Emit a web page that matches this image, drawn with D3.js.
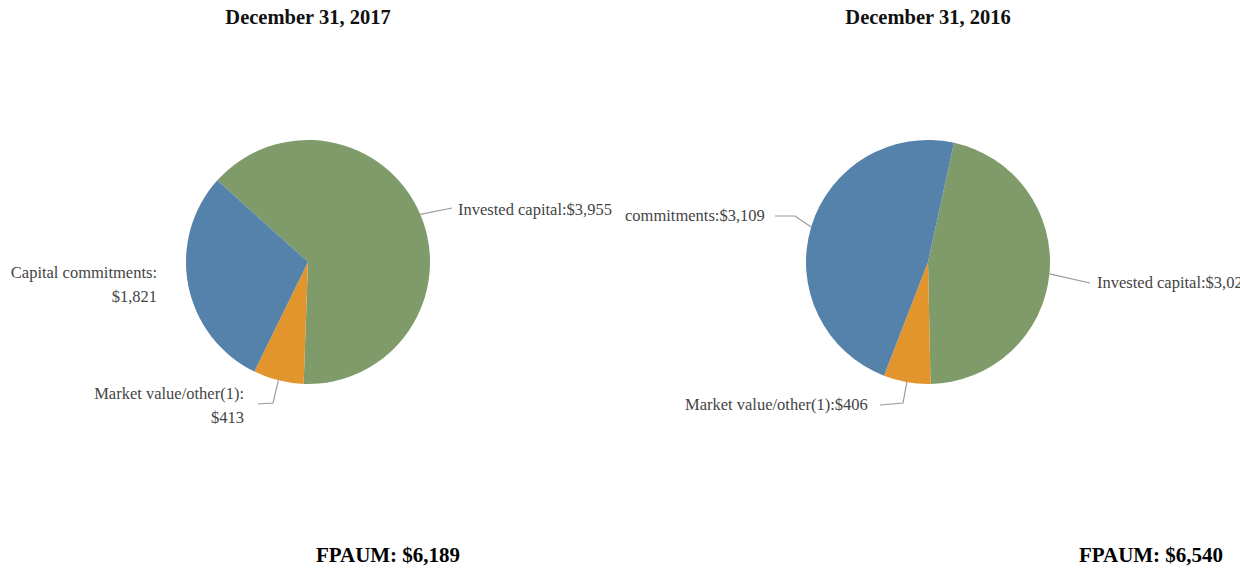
<!DOCTYPE html>
<html>
<head>
<meta charset="utf-8">
<script src="https://cdn.jsdelivr.net/npm/d3@7"></script>
<style>
  body { margin: 0; background: #fff; }
  svg { display: block; }
  text { font-family: "Liberation Serif", "Times New Roman", serif; }
</style>
</head>
<body>
<div id="chart"></div>
<script>
const width = 1240;
const height = 573;

// data (in $ millions)
const categories = ["Invested capital", "Market value/other(1)", "Capital commitments"];
const values2017 = [3955, 413, 1821];
const values2016 = [3025, 406, 3109];
const titles = ["December 31, 2017", "December 31, 2016"];
const totals = ["FPAUM: $6,189", "FPAUM: $6,540"];

const colors = d3.scaleOrdinal()
  .domain(categories)
  .range(["#7f9b69", "#e3952d", "#5582aa"]);

const fmt = d3.format("$,");

// layout for each pie (start angle in degrees, label anchors, leader elbows)
const pies = [
  {
    values: values2017, title: titles[0], total: totals[0],
    cx: 308, cy: 262, start: -48, totalX: 388,
    labels: [
      { lines: (v) => ["Invested capital:" + fmt(v)], x: 458, y: 215, anchor: "start",
        leader: [[452, 208]] },
      { lines: (v) => ["Market value/other(1):", fmt(v)], x: 244, y: 399, anchor: "end",
        leader: [[273, 403], [258, 404]] },
      { lines: (v) => ["Capital commitments:", fmt(v)], x: 157, y: 278, anchor: "end",
        leader: null }
    ]
  },
  {
    values: values2016, title: titles[1], total: totals[1],
    cx: 928, cy: 262, start: 12.3, totalX: 1151,
    labels: [
      // the reference crops this label at the right edge
      { lines: (v) => ["Invested capital:" + fmt(v)], x: 1097, y: 288, anchor: "start",
        leader: [[1090, 283]] },
      { lines: (v) => ["Market value/other(1):" + fmt(v)], x: 685, y: 410, anchor: "start",
        leader: [[903, 403], [880, 405]] },
      { lines: (v) => ["commitments:" + fmt(v)], x: 625, y: 221, anchor: "start",
        leader: [[795, 216], [775, 216]] }
    ]
  }
];

const radius = 122;

const svg = d3.select("#chart")
  .append("svg")
  .attr("width", width)
  .attr("height", height)
  .attr("viewBox", `0 0 ${width} ${height}`);

const arc = d3.arc().innerRadius(0).outerRadius(radius);

pies.forEach((p) => {
  const pie = d3.pie()
    .sort(null)
    .startAngle((p.start * Math.PI) / 180)
    .endAngle((p.start * Math.PI) / 180 + 2 * Math.PI);

  const arcs = pie(p.values);

  svg.append("text")
    .attr("x", p.cx)
    .attr("y", 24)
    .attr("text-anchor", "middle")
    .style("font-weight", "bold")
    .style("font-size", "20.5px")
    .attr("fill", "#111")
    .text(p.title);

  const g = svg.append("g").attr("transform", `translate(${p.cx},${p.cy})`);

  g.selectAll("path")
    .data(arcs)
    .join("path")
    .attr("d", arc)
    .attr("fill", (d, i) => colors(categories[i]));

  // leader lines + labels
  arcs.forEach((d, i) => {
    const lab = p.labels[i];
    const mid = (d.startAngle + d.endAngle) / 2;
    const sx = p.cx + Math.sin(mid) * radius;
    const sy = p.cy - Math.cos(mid) * radius;

    if (lab.leader) {
      svg.append("path")
        .attr("d", d3.line()([[sx, sy], ...lab.leader]))
        .attr("fill", "none")
        .attr("stroke", "#9a9a9a")
        .attr("stroke-width", 1.2);
    }

    const t = svg.append("text")
      .attr("x", lab.x)
      .attr("y", lab.y)
      .attr("text-anchor", lab.anchor)
      .style("font-size", "16.5px")
      .attr("fill", "#444");

    lab.lines(p.values[i]).forEach((s, k) => {
      t.append("tspan")
        .attr("x", lab.x)
        .attr("dy", k === 0 ? 0 : 24)
        .text(s);
    });
  });

  svg.append("text")
    .attr("x", p.totalX)
    .attr("y", 562)
    .attr("text-anchor", "middle")
    .style("font-weight", "bold")
    .style("font-size", "21px")
    .attr("fill", "#000")
    .text(p.total);
});
</script>
</body>
</html>
